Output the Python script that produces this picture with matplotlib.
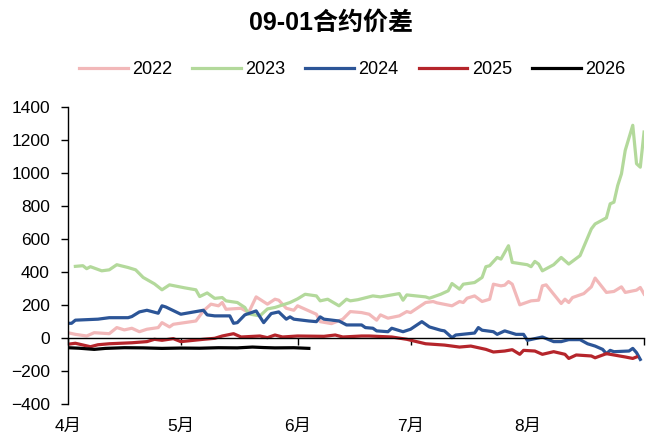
import matplotlib
matplotlib.use("Agg")
import matplotlib.pyplot as plt
import numpy as np

plt.rcParams['font.family'] = ['Liberation Sans', 'Noto Sans CJK SC', 'DejaVu Sans']

# days counted from 4月1日
days_2022 = [0, 2, 5, 7, 11, 13, 15, 17, 19, 21, 24, 25, 27, 28, 34, 36, 38, 40, 41, 42,
             46, 48, 50, 53, 55, 56, 58, 60, 61, 66, 67, 70, 73, 75, 78, 80, 82, 83, 85, 88,
             90, 91, 95, 97, 98, 102, 104, 105, 106, 108, 110, 112, 113, 115, 116, 117, 118,
             120, 123, 125, 126, 127, 131, 132, 133, 134, 137, 139, 140, 143, 145, 147, 148,
             151, 152, 153]
vals_2022 = [32, 22, 12, 32, 26, 63, 49, 59, 38, 53, 63, 93, 67, 83, 103, 164, 205, 195, 215, 174,
             180, 154, 249, 205, 235, 229, 180, 168, 195, 144, 99, 87, 114, 160, 154, 144, 108, 140, 120, 134,
             160, 154, 215, 221, 213, 195, 221, 215, 241, 255, 221, 235, 326, 316, 320, 342, 326,
             201, 225, 229, 316, 322, 209, 235, 215, 245, 269, 310, 363, 276, 282, 310, 276,
             290, 306, 266]

days_2023 = [2, 4, 5, 6, 9, 11, 13, 16, 18, 20, 23, 25, 27, 31, 34, 35, 37, 39, 41, 42,
             45, 47, 48, 51, 53, 55, 59, 61, 63, 66, 67, 69, 72, 74, 75, 77, 81, 83, 88, 89,
             90, 95, 96, 99, 101, 102, 104, 105, 108, 110, 111, 112, 114, 115, 117, 118, 122,
             123, 124, 125, 126, 129, 131, 133, 136, 139, 140, 143, 144, 145, 146, 147, 148,
             150, 151, 152, 153]
vals_2023 = [434, 438, 420, 432, 407, 413, 444, 427, 413, 367, 328, 292, 322, 304, 292, 251, 273, 240, 245, 225,
             215, 185, 146, 134, 176, 185, 215, 237, 265, 255, 225, 235, 195, 235, 225, 232, 255, 249, 269, 229,
             261, 249, 241, 265, 286, 330, 296, 326, 336, 367, 432, 438, 488, 478, 559, 458, 444,
             432, 464, 448, 407, 444, 488, 448, 499, 661, 691, 728, 813, 823, 924, 995, 1137,
             1289, 1056, 1035, 1248]

days_2024 = [0, 1, 2, 8, 11, 16, 17, 19, 21, 24, 25, 26, 30, 36, 37, 39, 43, 44, 45, 47,
             50, 52, 54, 56, 58, 59, 60, 64, 66, 67, 68, 72, 74, 78, 79, 81, 82, 85, 86, 89,
             91, 94, 96, 99, 100, 102, 103, 108, 109, 110, 113, 114, 116, 119, 121, 122, 126,
             129, 131, 133, 136, 138, 140, 142, 143, 144, 145, 149, 150, 151, 152]
vals_2024 = [89, 89, 108, 114, 123, 123, 130, 158, 168, 150, 195, 188, 144, 168, 140, 134, 134, 89, 93, 140,
             164, 93, 148, 158, 114, 128, 114, 103, 99, 128, 114, 103, 79, 79, 63, 59, 43, 38, 59, 38,
             53, 99, 67, 47, 43, 2, 18, 30, 63, 47, 38, 22, 43, 22, 22, -14, 6,
             -22, -22, -10, -10, -35, -49, -69, -95, -75, -83, -79, -63, -89, -130]

days_2025 = [0, 2, 6, 8, 11, 17, 21, 23, 25, 28, 30, 36, 39, 41, 44, 46, 51, 53, 55, 57,
             61, 68, 71, 73, 78, 80, 86, 90, 95, 100, 104, 107, 111, 113, 116, 118, 120, 121,
             124, 126, 129, 132, 133, 135, 139, 140, 143, 148, 150, 151]
vals_2025 = [-38, -32, -53, -41, -35, -29, -22, -8, -14, -4, -22, -8, -2, 12, 26, 6, 12, 2, 18, 6,
             12, 10, 18, 6, 12, 12, 6, -8, -35, -43, -55, -49, -69, -85, -79, -71, -99, -75,
             -79, -99, -83, -99, -124, -103, -109, -120, -95, -115, -124, -115]

days_2026 = [0, 3, 7, 10, 15, 20, 25, 30, 35, 40, 45, 49, 52, 55, 60, 64]
vals_2026 = [-59, -62, -69, -63, -59, -60, -63, -61, -62, -59, -60, -55, -58, -60, -59, -63]

month_starts = [0, 30, 61, 91, 122, 153]
month_labels = ['4月', '5月', '6月', '7月', '8月', '']

series = [
    ('2022', days_2022, vals_2022, '#F2B8B9'),
    ('2023', days_2023, vals_2023, '#B3D99B'),
    ('2024', days_2024, vals_2024, '#2C5597'),
    ('2025', days_2025, vals_2025, '#B5252B'),
    ('2026', days_2026, vals_2026, '#000000'),
]

fig = plt.figure(figsize=(6.46, 4.42), dpi=100)
ax = fig.add_axes([0.105, 0.086, 0.892, 0.672])

for name, d, v, c in series:
    ax.plot(d, v, color=c, lw=2.3, label=name, solid_joinstyle='round')

ax.set_xlim(0, 153)
ax.set_ylim(-400, 1400)
ax.set_yticks(np.arange(-400, 1401, 200))
ax.set_xticks(month_starts)
ax.set_xticklabels(month_labels)

# x axis line sits on zero, labels stay at the bottom
ax.spines['bottom'].set_position(('data', 0))
ax.spines['top'].set_visible(False)
ax.spines['right'].set_visible(False)
ax.spines['left'].set_linewidth(1.0)
ax.spines['bottom'].set_linewidth(1.0)
ax.tick_params(axis='x', direction='out', length=5, width=1, pad=53, labelsize=12.5)
ax.tick_params(axis='y', direction='out', length=5, width=1, pad=8, labelsize=12.5)

fig.suptitle('09-01合约价差', x=0.512, y=0.975, fontsize=18, fontweight='bold')
fig.legend(loc='center', bbox_to_anchor=(0.545, 0.842), ncol=5, frameon=False,
           fontsize=13, handlelength=2.7, columnspacing=1.1, handletextpad=0.25)

fig.savefig('out.png', dpi=100)
